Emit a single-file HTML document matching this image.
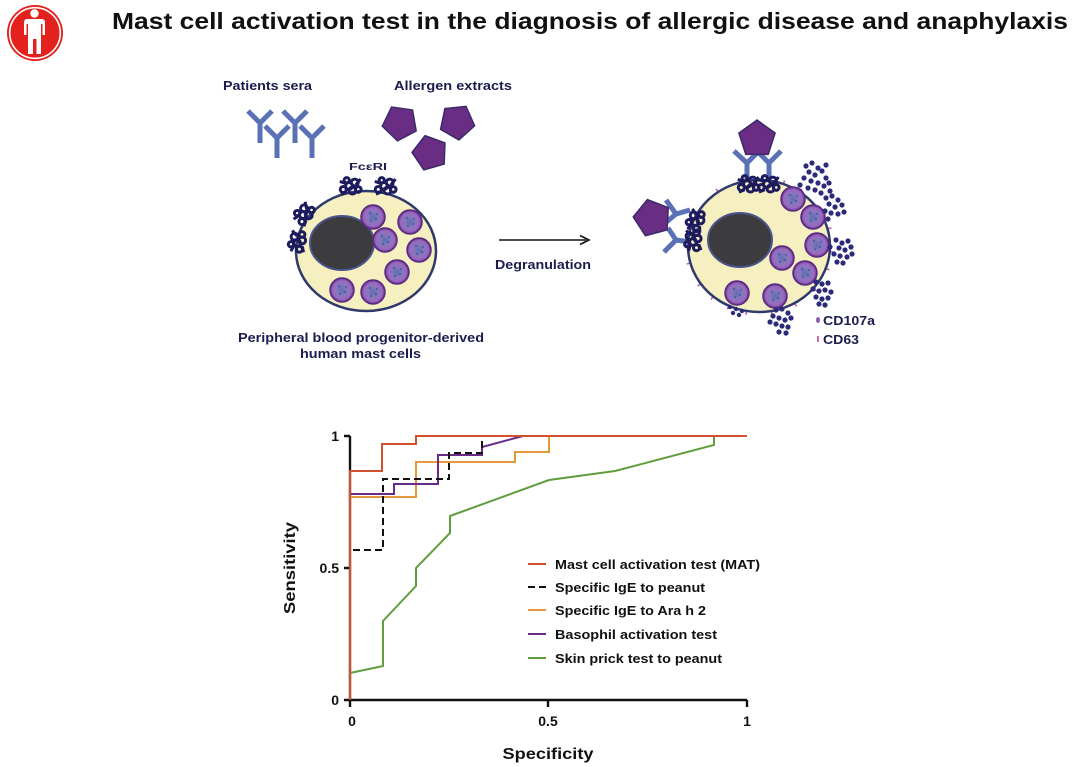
<!DOCTYPE html>
<html><head><meta charset="utf-8"><style>
html,body{margin:0;padding:0;background:#fff;}
svg{display:block;}
text{font-family:"Liberation Sans",Arial,sans-serif;font-weight:bold;}
</style></head><body>
<svg width="1080" height="767" viewBox="0 0 1080 767" xmlns="http://www.w3.org/2000/svg">
<defs>
<radialGradient id="gr" cx="50%" cy="50%" r="50%">
<stop offset="0" stop-color="#5d70b2"/>
<stop offset="0.45" stop-color="#8a76bd"/>
<stop offset="0.78" stop-color="#9a6ac0"/>
<stop offset="1" stop-color="#5f2a86"/>
</radialGradient>
<g id="rec" fill="none" stroke="#1d1b5e" stroke-width="2.6" transform="scale(1.15)">
<circle cx="0" cy="0" r="3"/><circle cx="5" cy="-3" r="3"/><circle cx="3" cy="4" r="3"/>
<circle cx="-5" cy="3" r="2.6"/><circle cx="8" cy="3" r="2.5"/><circle cx="-2" cy="-5" r="2.3"/>
<path d="M-8,-4 L-2,-2 M10,-6 L6,-1 M-7,7 L-2,5"/>
</g>
<g id="gran"><circle r="12" fill="url(#gr)" stroke="#5a2a80" stroke-width="1.5"/>
<circle cx="-3" cy="-4" r="1.3" fill="#4a64a8"/><circle cx="3" cy="2" r="1.3" fill="#4a64a8"/><circle cx="-2" cy="4" r="1.2" fill="#4a64a8"/><circle cx="4" cy="-3" r="1.1" fill="#4a64a8"/></g>
</defs>
<rect width="1080" height="767" fill="#fff"/>

<!-- icon -->
<circle cx="35" cy="33" r="28" fill="#e3211d"/>
<circle cx="35" cy="33" r="25.3" fill="none" stroke="#fff" stroke-width="1.6"/>
<circle cx="34.5" cy="13.5" r="4.2" fill="#fff"/>
<path d="M27,19 H42 A3,3 0 0 1 45,22 V35 H42.5 V24 H41 V54 H36.5 V39 H33 V54 H28 V24 H26.5 V35 H24 V22 A3,3 0 0 1 27,19 Z" fill="#fff"/>

<!-- title -->
<text x="112" y="29" font-size="23" fill="#111" textLength="956" lengthAdjust="spacingAndGlyphs">Mast cell activation test in the diagnosis of allergic disease and anaphylaxis</text>

<!-- labels -->
<text x="223" y="90" font-size="13" fill="#1c1d4e" textLength="89" lengthAdjust="spacingAndGlyphs">Patients sera</text>
<text x="394" y="90" font-size="13" fill="#1c1d4e" textLength="118" lengthAdjust="spacingAndGlyphs">Allergen extracts</text>

<!-- antibodies left -->
<g stroke="#5a72b5" stroke-width="5" fill="none" stroke-linecap="butt">
<path d="M248,111 L260,123 L272,111 M260,123 V143"/>
<path d="M265,126 L277,138 L289,126 M277,138 V158"/>
<path d="M283,111 L295,123 L307,111 M295,123 V143"/>
<path d="M300,126 L312,138 L324,126 M312,138 V158"/>
</g>

<!-- pentagons left -->
<g fill="#6a2d84" stroke="#3a2a6a" stroke-width="1.5">
<polygon points="400,141 417.1,128.6 410.6,108.4 389.4,108.4 382.9,128.6" transform="rotate(8 400 123)"/>
<polygon points="457,140 474.1,127.6 467.6,107.4 446.4,107.4 439.9,127.6" transform="rotate(-6 457 122)"/>
<polygon points="430,171 447.1,158.6 440.6,138.4 419.4,138.4 412.9,158.6" transform="rotate(20 430 153)"/>
</g>

<text x="349" y="170" font-size="10" fill="#1c1d4e" textLength="38" lengthAdjust="spacingAndGlyphs">FcεRI</text>

<!-- left cell -->
<ellipse cx="366" cy="251" rx="70" ry="60" fill="#f6efbf" stroke="#2f3a6c" stroke-width="2.5"/>
<ellipse cx="342" cy="243" rx="32" ry="27" fill="#3c3c3e" stroke="#4a5590" stroke-width="2"/>
<use href="#gran" x="373" y="217"/><use href="#gran" x="410" y="222"/><use href="#gran" x="385" y="240"/>
<use href="#gran" x="419" y="250"/><use href="#gran" x="397" y="272"/><use href="#gran" x="342" y="290"/><use href="#gran" x="373" y="292"/>
<use href="#rec" x="349" y="186"/><use href="#rec" x="384" y="186"/>
<use href="#rec" transform="translate(303 215) rotate(-50)"/><use href="#rec" transform="translate(297 243) rotate(-80)"/>

<text x="238" y="342" font-size="13" fill="#1c1d4e" textLength="246" lengthAdjust="spacingAndGlyphs">Peripheral blood progenitor-derived</text>
<text x="300" y="358" font-size="13" fill="#1c1d4e" textLength="121" lengthAdjust="spacingAndGlyphs">human mast cells</text>

<!-- arrow -->
<line x1="499" y1="240" x2="586" y2="240" stroke="#111" stroke-width="1.6"/>
<path d="M580,235.5 L589,240 L580,244.5" fill="none" stroke="#111" stroke-width="1.6"/>
<text x="495" y="269" font-size="13" fill="#1c1d4e" textLength="96" lengthAdjust="spacingAndGlyphs">Degranulation</text>

<!-- right cell -->
<g stroke="#c25ca6" stroke-width="1.6">
<g transform="translate(759 246) scale(1 0.93)">
<line x1="71" y1="0" x2="75" y2="0" transform="rotate(-100)"/><line x1="71" y1="0" x2="75" y2="0" transform="rotate(-70)"/>
<line x1="71" y1="0" x2="75" y2="0" transform="rotate(-55)"/><line x1="71" y1="0" x2="75" y2="0" transform="rotate(-30)"/>
<line x1="71" y1="0" x2="75" y2="0" transform="rotate(-15)"/><line x1="71" y1="0" x2="75" y2="0" transform="rotate(5)"/>
<line x1="71" y1="0" x2="75" y2="0" transform="rotate(20)"/><line x1="71" y1="0" x2="75" y2="0" transform="rotate(40)"/>
<line x1="71" y1="0" x2="75" y2="0" transform="rotate(60)"/><line x1="71" y1="0" x2="75" y2="0" transform="rotate(80)"/>
<line x1="71" y1="0" x2="75" y2="0" transform="rotate(100)"/><line x1="71" y1="0" x2="75" y2="0" transform="rotate(115)"/>
<line x1="71" y1="0" x2="75" y2="0" transform="rotate(130)"/><line x1="71" y1="0" x2="75" y2="0" transform="rotate(145)"/>
<line x1="71" y1="0" x2="75" y2="0" transform="rotate(165)"/><line x1="71" y1="0" x2="75" y2="0" transform="rotate(210)"/>
<line x1="71" y1="0" x2="75" y2="0" transform="rotate(235)"/>
</g></g>
<ellipse cx="759" cy="246" rx="71" ry="66" fill="#f6efbf" stroke="#2f3a6c" stroke-width="2.5"/>
<ellipse cx="740" cy="240" rx="32" ry="27" fill="#3c3c3e" stroke="#4a5590" stroke-width="2"/>
<use href="#gran" x="793" y="199"/><use href="#gran" x="813" y="217"/><use href="#gran" x="817" y="245"/>
<use href="#gran" x="805" y="273"/><use href="#gran" x="782" y="258"/><use href="#gran" x="737" y="293"/><use href="#gran" x="775" y="296"/>

<!-- secreted dots -->
<g fill="#2c2a7a">
<circle cx="806" cy="166" r="2.6"/><circle cx="812" cy="163" r="2.6"/><circle cx="818" cy="168" r="2.6"/><circle cx="809" cy="172" r="2.6"/><circle cx="815" cy="175" r="2.6"/><circle cx="822" cy="171" r="2.6"/><circle cx="826" cy="178" r="2.6"/><circle cx="804" cy="178" r="2.6"/><circle cx="811" cy="181" r="2.6"/><circle cx="818" cy="183" r="2.6"/><circle cx="824" cy="186" r="2.6"/><circle cx="829" cy="183" r="2.6"/><circle cx="808" cy="188" r="2.6"/><circle cx="815" cy="190" r="2.6"/><circle cx="821" cy="193" r="2.6"/><circle cx="830" cy="191" r="2.6"/><circle cx="800" cy="185" r="2.6"/><circle cx="826" cy="165" r="2.6"/>
<circle cx="826" cy="198" r="2.6"/><circle cx="832" cy="196" r="2.6"/><circle cx="838" cy="200" r="2.6"/><circle cx="829" cy="204" r="2.6"/><circle cx="835" cy="207" r="2.6"/><circle cx="842" cy="205" r="2.6"/><circle cx="825" cy="211" r="2.6"/><circle cx="831" cy="213" r="2.6"/><circle cx="838" cy="214" r="2.6"/><circle cx="844" cy="212" r="2.6"/><circle cx="828" cy="219" r="2.6"/>
<circle cx="836" cy="240" r="2.6"/><circle cx="842" cy="243" r="2.6"/><circle cx="848" cy="241" r="2.6"/><circle cx="839" cy="248" r="2.6"/><circle cx="845" cy="250" r="2.6"/><circle cx="851" cy="247" r="2.6"/><circle cx="834" cy="254" r="2.6"/><circle cx="840" cy="256" r="2.6"/><circle cx="847" cy="257" r="2.6"/><circle cx="852" cy="254" r="2.6"/><circle cx="837" cy="262" r="2.6"/><circle cx="843" cy="263" r="2.6"/><circle cx="830" cy="247" r="2.6"/>
<circle cx="816" cy="282" r="2.6"/><circle cx="822" cy="284" r="2.6"/><circle cx="828" cy="283" r="2.6"/><circle cx="813" cy="289" r="2.6"/><circle cx="819" cy="291" r="2.6"/><circle cx="825" cy="290" r="2.6"/><circle cx="831" cy="292" r="2.6"/><circle cx="816" cy="297" r="2.6"/><circle cx="822" cy="299" r="2.6"/><circle cx="828" cy="298" r="2.6"/><circle cx="819" cy="304" r="2.6"/><circle cx="825" cy="305" r="2.6"/>
<circle cx="776" cy="310" r="2.6"/><circle cx="782" cy="309" r="2.6"/><circle cx="788" cy="313" r="2.6"/><circle cx="773" cy="316" r="2.6"/><circle cx="779" cy="318" r="2.6"/><circle cx="785" cy="320" r="2.6"/><circle cx="791" cy="318" r="2.6"/><circle cx="776" cy="324" r="2.6"/><circle cx="782" cy="326" r="2.6"/><circle cx="788" cy="327" r="2.6"/><circle cx="779" cy="332" r="2.6"/><circle cx="786" cy="333" r="2.6"/><circle cx="770" cy="322" r="2.6"/>
<circle cx="730" cy="307" r="2.2"/><circle cx="736" cy="309" r="2.2"/><circle cx="742" cy="311" r="2.2"/><circle cx="733" cy="313" r="2.2"/><circle cx="739" cy="315" r="2.2"/>
</g>

<!-- right antibodies + allergens -->
<g stroke="#5a72b5" stroke-width="5" fill="none">
<path d="M734,151 L747,163 L759,151 M747,163 V180"/>
<path d="M757,151 L769,163 L781,151 M769,163 V180"/>
<path d="M690,210 L676,214 L666,200 M676,214 L664,224"/>
<path d="M690,242 L676,240 L668,228 M676,240 L664,252"/>
</g>
<g fill="#6a2d84" stroke="#3a2a6a" stroke-width="1.5">
<polygon points="757,120 775.1,133.1 768.2,154.4 745.8,154.4 738.9,133.1"/>
<polygon points="652,199 670.1,212.1 663.2,233.4 640.8,233.4 633.9,212.1" transform="rotate(-15 652 217)"/>
</g>
<use href="#rec" x="747" y="184"/><use href="#rec" x="767" y="184"/>
<use href="#rec" transform="translate(695 222) rotate(-70)"/><use href="#rec" transform="translate(693 242) rotate(-90)"/>

<ellipse cx="818" cy="320" rx="2" ry="3" fill="#8a5ab0"/>
<line x1="818" y1="336" x2="818" y2="342" stroke="#c25ca6" stroke-width="1.8"/>
<text x="823" y="325" font-size="13" fill="#1c1d4e" textLength="52" lengthAdjust="spacingAndGlyphs">CD107a</text>
<text x="823" y="344" font-size="13" fill="#1c1d4e" textLength="36" lengthAdjust="spacingAndGlyphs">CD63</text>

<!-- chart axes -->
<g stroke="#111" stroke-width="2.4" fill="none">
<path d="M350,436 V700 H747"/>
<path d="M344,436 H350 M344,568 H350 M344,700 H350"/>
<path d="M350,700 V707 M548,700 V707 M747,700 V707"/>
</g>
<g font-size="14" fill="#111">
<text x="339" y="441" text-anchor="end">1</text>
<text x="339" y="573" text-anchor="end">0.5</text>
<text x="339" y="705" text-anchor="end">0</text>
<text x="352" y="726" text-anchor="middle">0</text>
<text x="548" y="726" text-anchor="middle">0.5</text>
<text x="747" y="726" text-anchor="middle">1</text>
</g>
<text x="548" y="759" font-size="16" fill="#111" text-anchor="middle" textLength="91" lengthAdjust="spacingAndGlyphs">Specificity</text>
<text transform="translate(295 568) rotate(-90)" font-size="16" fill="#111" text-anchor="middle" textLength="92" lengthAdjust="spacingAndGlyphs">Sensitivity</text>

<!-- series -->
<g fill="none" stroke-width="2">
<path d="M350,673 L383,666 L383,621 L416,586 L416,568 L450,533 L450,516 L549,480 L615,471 L714,445 L714,436" stroke="#5f9e3c"/>
<path d="M350,497 L416,497 L416,462 L515,462 L515,452 L549,452 L549,436" stroke="#e6993a"/>
<path d="M350,494 L394,494 L394,484 L438,484 L438,455 L482,455 L482,447 L523,436" stroke="#6a2b88"/>
<path d="M353,550 L383,550 L383,479 L449,479 L449,453 L482,453 L482,436" stroke="#111" stroke-dasharray="7,4"/>
<path d="M350,700 L350,471 L382,471 L382,444 L416,444 L416,436 L747,436" stroke="#d0502f"/>
</g>

<!-- legend -->
<g stroke-width="2">
<line x1="528" y1="564" x2="546" y2="564" stroke="#d0502f"/>
<line x1="528" y1="587" x2="546" y2="587" stroke="#111" stroke-dasharray="7,4"/>
<line x1="528" y1="610" x2="546" y2="610" stroke="#e6993a"/>
<line x1="528" y1="634" x2="546" y2="634" stroke="#6a2b88"/>
<line x1="528" y1="658" x2="546" y2="658" stroke="#5f9e3c"/>
</g>
<g font-size="13" fill="#111">
<text x="555" y="569" textLength="205" lengthAdjust="spacingAndGlyphs">Mast cell activation test (MAT)</text>
<text x="555" y="592" textLength="150" lengthAdjust="spacingAndGlyphs">Specific IgE to peanut</text>
<text x="555" y="615" textLength="151" lengthAdjust="spacingAndGlyphs">Specific IgE to Ara h 2</text>
<text x="555" y="639" textLength="162" lengthAdjust="spacingAndGlyphs">Basophil activation test</text>
<text x="555" y="663" textLength="167" lengthAdjust="spacingAndGlyphs">Skin prick test to peanut</text>
</g>
</svg>
</body></html>
